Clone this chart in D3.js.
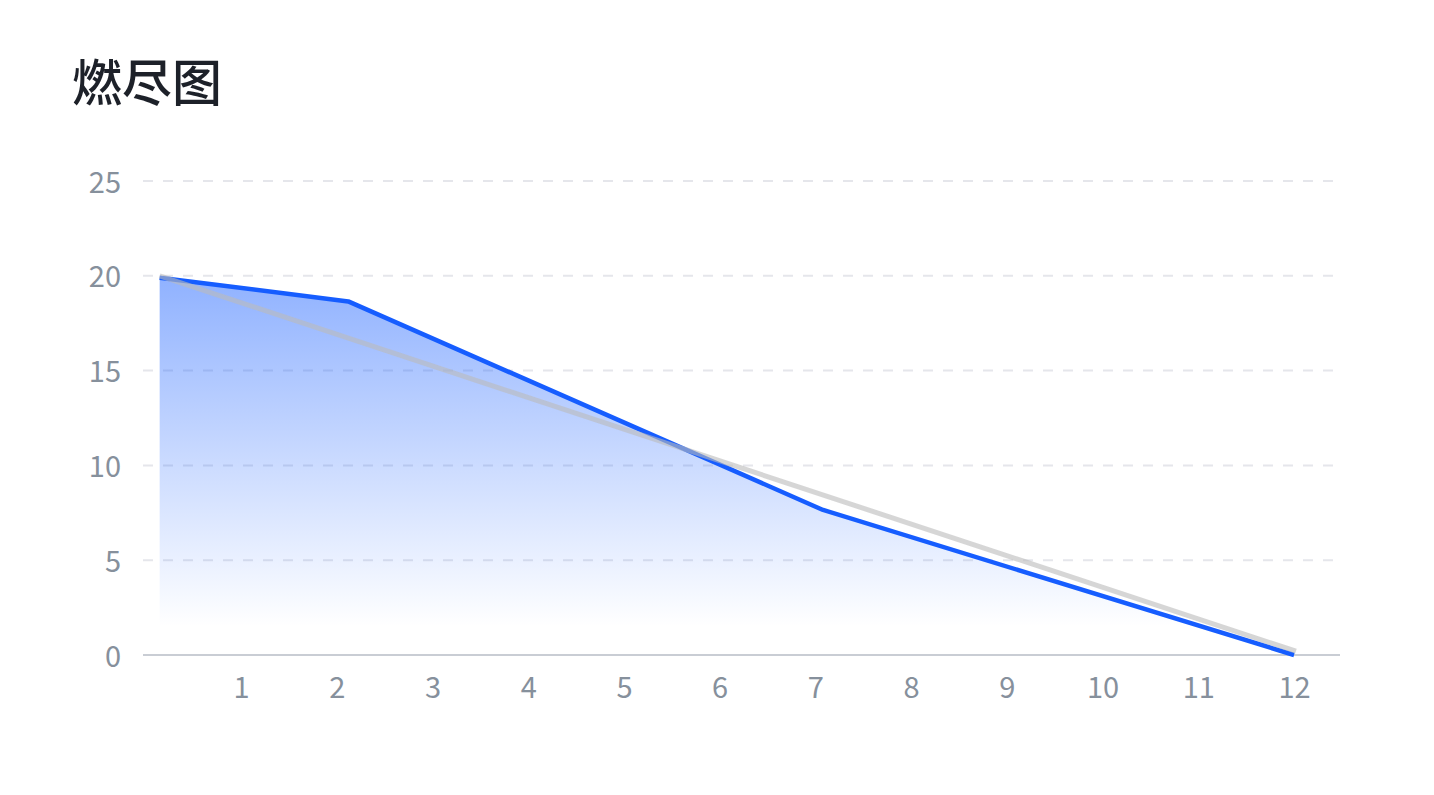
<!DOCTYPE html>
<html>
<head>
<meta charset="utf-8">
<script src="https://cdn.jsdelivr.net/npm/d3@7"></script>
<style>
  html, body { margin: 0; padding: 0; background: #fff; }
  #chart { width: 1434px; height: 795px; }
</style>
</head>
<body>
<div id="chart"></div>
<script>
// Burndown data (x = day, y = remaining)
const actualDays = [0.15, 2.12, 7.08, 12];
const actualRemaining = [19.9, 18.65, 7.65, 0];
const idealDays = [0.15, 12.02];
const idealRemaining = [20, 0.2];
const yTicks = [0, 5, 10, 15, 20, 25];
const xTicks = [1, 2, 3, 4, 5, 6, 7, 8, 9, 10, 11, 12];

const width = 1434;
const height = 795;

const svg = d3.select('#chart')
    .append('svg')
    .attr('width', width)
    .attr('height', height)
    .style('font-family', '"Noto Sans CJK SC", "Noto Sans", sans-serif');

// Title
svg.append('text')
    .attr('x', 72)
    .attr('y', 101)
    .attr('fill', '#1d2129')
    .style('font-size', '50px')
    .style('font-weight', 500)
    .text('燃尽图');

// Scales
const x = d3.scaleLinear().domain([0, 12.5]).range([145.3, 1341.9]);
const y = d3.scaleLinear().domain([0, 25]).range([655, 181]);

// Gridlines
svg.append('g')
    .selectAll('line')
    .data(yTicks.filter(d => d > 0))
    .enter()
    .append('line')
    .attr('x1', 143)
    .attr('x2', 1333)
    .attr('y1', d => y(d))
    .attr('y2', d => y(d))
    .attr('stroke', '#e5e6eb')
    .attr('stroke-width', 2)
    .attr('stroke-dasharray', '10 10');

// Y axis labels
const yAxis = d3.axisLeft(y).tickValues(yTicks).tickSize(0).tickPadding(0);
svg.append('g')
    .attr('transform', 'translate(121,1)')
    .call(yAxis)
    .call(g => g.select('.domain').remove())
    .selectAll('text')
    .attr('fill', '#86909c')
    .attr('dy', '0.35em')
    .style('font-size', '29px')
    .style('font-weight', 400)
    .style('font-family', '"Noto Sans CJK SC", "Noto Sans", sans-serif');

// X axis labels
const xAxis = d3.axisBottom(x).tickValues(xTicks).tickSize(0).tickPadding(0);
svg.append('g')
    .attr('transform', 'translate(0,677)')
    .call(xAxis)
    .call(g => g.select('.domain').remove())
    .selectAll('text')
    .attr('fill', '#86909c')
    .attr('dy', '0.71em')
    .style('font-size', '29px')
    .style('font-weight', 400)
    .style('font-family', '"Noto Sans CJK SC", "Noto Sans", sans-serif');

// Baseline
svg.append('line')
    .attr('x1', 143)
    .attr('x2', 1340)
    .attr('y1', y(0))
    .attr('y2', y(0))
    .attr('stroke', '#c9cdd4')
    .attr('stroke-width', 2);

// Gradient for area
const defs = svg.append('defs');
const grad = defs.append('linearGradient')
    .attr('id', 'areaGrad')
    .attr('gradientUnits', 'userSpaceOnUse')
    .attr('x1', 0).attr('x2', 0)
    .attr('y1', y(20)).attr('y2', y(1.5));
grad.append('stop').attr('offset', '0%').attr('stop-color', '#165dff').attr('stop-opacity', 0.48);
grad.append('stop').attr('offset', '100%').attr('stop-color', '#165dff').attr('stop-opacity', 0);

const actual = actualDays.map((d, i) => [d, actualRemaining[i]]);
const ideal = idealDays.map((d, i) => [d, idealRemaining[i]]);

svg.append('path')
    .datum(actual)
    .attr('fill', 'url(#areaGrad)')
    .attr('d', d3.area().x(d => x(d[0])).y0(y(0)).y1(d => y(d[1])));

svg.append('path')
    .datum(actual)
    .attr('fill', 'none')
    .attr('stroke', '#165dff')
    .attr('stroke-width', 4.5)
    .attr('stroke-linejoin', 'round')
    .attr('d', d3.line().x(d => x(d[0])).y(d => y(d[1])));

svg.append('path')
    .datum(ideal)
    .attr('fill', 'none')
    .attr('stroke', '#bababa')
    .attr('stroke-opacity', 0.6)
    .attr('stroke-width', 5)
    .attr('d', d3.line().x(d => x(d[0])).y(d => y(d[1])));
</script>
</body>
</html>
